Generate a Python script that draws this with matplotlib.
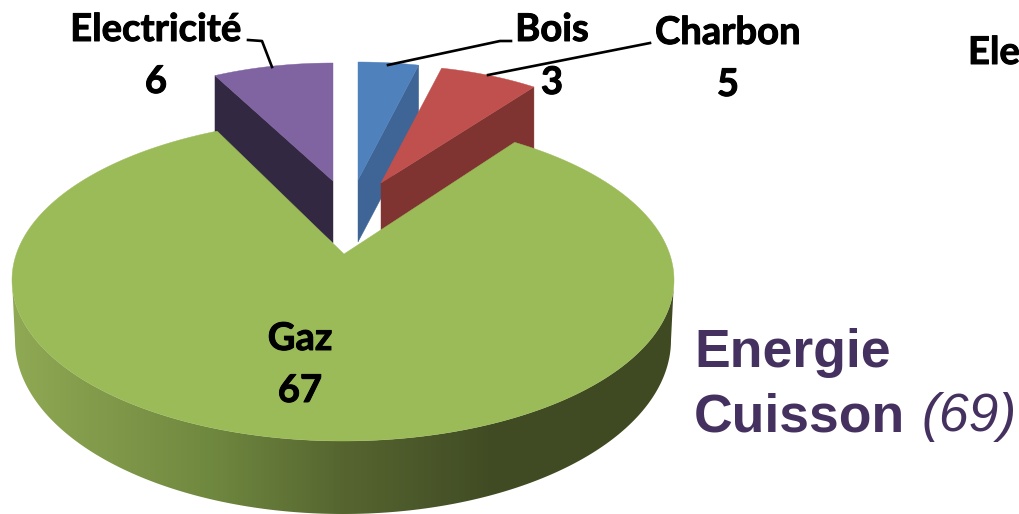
import numpy as np
import matplotlib
matplotlib.use("Agg")
import matplotlib.pyplot as plt
import matplotlib.patheffects as pe
from matplotlib.colors import LinearSegmentedColormap
from matplotlib.patches import Polygon

# values as printed on the chart
names = ["Bois", "Charbon", "Gaz", "Electricité"]
values = [3, 5, 67, 6]
top_colors = ["#4f81bd", "#c0504d", "#9bbb59", "#8064a2"]
wall_colors = ["#3e6595", "#7f3432", "#9bbb59", "#332842"]

# pixel layout of each exploded slice: apex, ellipse radii, wall depth
apex = {"Bois": (358, 180), "Charbon": (381, 183), "Electricité": (333, 181)}
small_a, small_b, small_depth = 263, 118, 62

fig = plt.figure(figsize=(10.19, 5.14), dpi=100)
ax = fig.add_axes([0, 0, 1, 1])
ax.set_xlim(0, 1019)
ax.set_ylim(514, 0)
ax.axis("off")

angles = np.cumsum([0] + values) / sum(values) * 2 * np.pi


def arc(cx, cy, a, b, t0, t1, n=200):
    t = np.linspace(t0, t1, n)
    return np.column_stack([cx + a * np.sin(t), cy - b * np.cos(t)])


# small slices, walls first, blue under red
for i in [3, 0, 1]:
    cx, cy = apex[names[i]]
    t0, t1 = angles[i], angles[i + 1]
    edge = arc(cx, cy, small_a, small_b, t0, t1)
    if names[i] == "Electricité":
        corner = edge[0]
    else:
        corner = edge[-1]
    wall = [corner, corner + (0, small_depth), (cx, cy + small_depth), (cx, cy)]
    ax.add_patch(Polygon(wall, fc=wall_colors[i], ec=wall_colors[i], lw=0.3, zorder=2 + i * 0.1))
    ax.add_patch(Polygon(np.vstack([[(cx, cy)], edge]), fc=top_colors[i], ec=top_colors[i], lw=0.3, zorder=3 + i * 0.1))

# big slice: apex sits above the centre of its ellipse
gaz_cx, gaz_cy, gaz_a, gaz_b = 343, 280, 331, 161
gaz_apex = (344, 254)
low_cy, low_a, low_b = 340, 328, 174
gaz_stretch = 1.029  # perspective widens the big slice a little

mid = (angles[2] + angles[3]) / 2
half = (angles[3] - angles[2]) / 2 * gaz_stretch
gaz_edge = arc(gaz_cx, gaz_cy, gaz_a, gaz_b, mid - half, mid + half, 600)

# wall with horizontal gradient, clipped to the rim outline
upper = arc(gaz_cx, gaz_cy, gaz_a, gaz_b, np.pi / 2, 3 * np.pi / 2, 300)
lower = arc(gaz_cx, low_cy, low_a, low_b, 3 * np.pi / 2, np.pi / 2, 300)
rim = Polygon(np.vstack([upper, lower]), transform=ax.transData, fc="none", ec="none")
ax.add_patch(rim)
shade = LinearSegmentedColormap.from_list(
    "rim", [(0, "#8fa954"), (0.14, "#80994a"), (0.3, "#6f883f"), (0.5, "#566530"), (0.72, "#414c24"), (1, "#3f4a23")]
)
img = ax.imshow(np.linspace(0, 1, 400).reshape(1, -1), cmap=shade, extent=(12, 675, 514, 250), aspect="auto", zorder=4)
img.set_clip_path(rim)
ax.set_xlim(0, 1019)
ax.set_ylim(514, 0)

ax.add_patch(Polygon(np.vstack([[gaz_apex], gaz_edge]), fc=top_colors[2], ec=top_colors[2], lw=0.3, zorder=5))

# leader lines
ax.plot([248, 262, 272], [40, 41, 67], color="black", lw=1.9, zorder=6)
ax.plot([511, 500, 388], [41, 41, 65], color="black", lw=1.9, zorder=6)
ax.plot([650, 488], [43, 75], color="black", lw=1.9, zorder=6)

# labels
label_font = dict(family="Lato", fontweight="bold", fontsize=27.5, color="black", ha="center", va="center", zorder=7,
                  path_effects=[pe.withStroke(linewidth=0.7, foreground="black")])
ax.text(156, 30, names[3], **label_font)
ax.text(156, 82, str(values[3]), **label_font)
ax.text(552, 30, names[0], **label_font)
ax.text(552, 83, str(values[0]), **label_font)
ax.text(728, 33, names[1], **label_font)
ax.text(728, 85, str(values[1]), **label_font)
ax.text(300, 339, names[2], **label_font)
ax.text(300, 391, str(values[2]), **label_font)
ax.text(994, 53, "Ele", **label_font)

# title
title_color = "#44315f"
ax.text(694, 367, "Energie", family="Liberation Sans", fontweight="bold", fontsize=38.5, color=title_color, va="baseline")
ax.text(694, 431, "Cuisson", family="Liberation Sans", fontweight="bold", fontsize=38.5, color=title_color, va="baseline")
ax.text(921, 431, "(69)", family="Liberation Sans", style="italic", fontsize=38.5, color=title_color, va="baseline")

fig.savefig("out.png", dpi=100)
